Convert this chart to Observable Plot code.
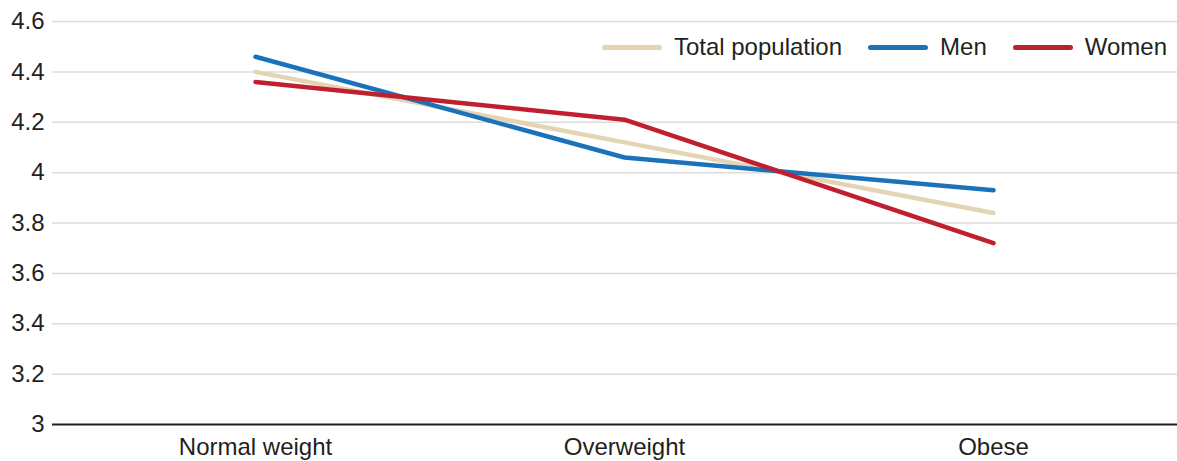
<!DOCTYPE html>
<html>
<head>
<meta charset="utf-8">
<script src="https://cdn.jsdelivr.net/npm/d3@7"></script>
<script src="https://cdn.jsdelivr.net/npm/@observablehq/plot@0.6"></script>
<style>
  html, body { margin: 0; padding: 0; background: #fff; }
  #wrap { position: relative; width: 1177px; height: 461px; font-family: "Liberation Sans", Arial, sans-serif; }
  #legend { position: absolute; top: 33px; right: 10px; display: flex; align-items: center; font-size: 24px; color: #231f20; }
  .item { display: flex; align-items: center; margin-left: 26px; }
  .sw { width: 60px; height: 5px; border-radius: 3px; margin-right: 12px; }
</style>
</head>
<body>
<div id="wrap"></div>
<script>
const categories = ["Normal weight", "Overweight", "Obese"];
const seriesNames = ["Total population", "Men", "Women"];
const totalValues = [4.40, 4.12, 3.84];
const menValues = [4.46, 4.06, 3.93];
const womenValues = [4.36, 4.21, 3.72];
const colors = ["#e3d5b3", "#1a72bb", "#c01f30"];
const yTicks = [3, 3.2, 3.4, 3.6, 3.8, 4, 4.2, 4.4, 4.6];

const valuesBySeries = [totalValues, menValues, womenValues];
const data = [];
seriesNames.forEach((s, si) => categories.forEach((c, ci) => data.push({series: s, category: c, value: valuesBySeries[si][ci]})));

const chart = Plot.plot({
  width: 1177,
  height: 461,
  marginLeft: 52,
  marginRight: 0,
  marginTop: 21,
  marginBottom: 37,
  style: {fontFamily: '"Liberation Sans", Arial, sans-serif', fontSize: "24px", color: "#231f20", background: "#fff"},
  x: {type: "point", domain: categories, range: [254, 993], padding: 0, label: null},
  y: {domain: [3, 4.6], label: null},
  color: {domain: seriesNames, range: colors},
  marks: [
    Plot.ruleY(yTicks.slice(1), {stroke: "#dcdcdc", strokeWidth: 1.5}),
    Plot.ruleY([3], {stroke: "#231f20", strokeWidth: 2}),
    Plot.axisY({ticks: yTicks, tickSize: 0, tickPadding: 8, tickFormat: d => String(+d.toFixed(1)), fontSize: 24, label: null}),
    Plot.axisX({tickSize: 0, tickPadding: 13, fontSize: 24, label: null}),
    Plot.line(data, {x: "category", y: "value", z: "series", stroke: "series", strokeWidth: 4.5, strokeLinecap: "round", strokeLinejoin: "round"})
  ]
});

const wrap = document.getElementById("wrap");
wrap.appendChild(chart);
const legend = document.createElement("div");
legend.id = "legend";
seriesNames.forEach((s, i) => {
  const it = document.createElement("div");
  it.className = "item";
  const sw = document.createElement("div");
  sw.className = "sw";
  sw.style.background = colors[i];
  const t = document.createElement("span");
  t.textContent = s;
  it.appendChild(sw); it.appendChild(t);
  legend.appendChild(it);
});
wrap.appendChild(legend);
</script>
</body>
</html>
